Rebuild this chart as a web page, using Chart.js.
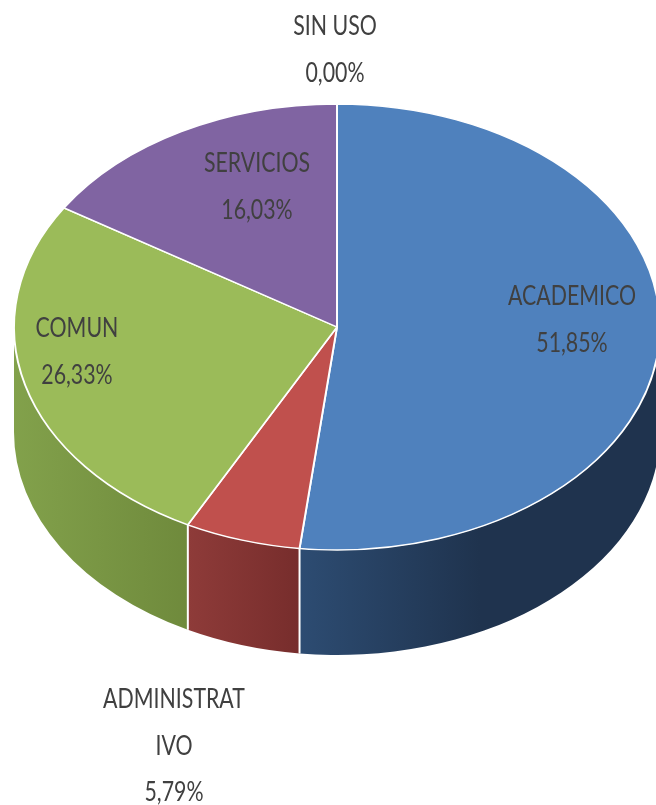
<!DOCTYPE html>
<html>
<head>
<meta charset="utf-8">
<script src="https://cdn.jsdelivr.net/npm/chart.js@4.4.0/dist/chart.umd.min.js"></script>
<style>
  html, body { margin: 0; padding: 0; background: #fff; }
  #wrap { width: 656px; height: 805px; position: relative; }
</style>
</head>
<body>
<div id="wrap"><canvas id="myChart"></canvas></div>
<script>
const categories = ['ACADEMICO', 'ADMINISTRATIVO', 'COMUN', 'SERVICIOS', 'SIN USO'];
const shares = [51.85, 5.79, 26.33, 16.03, 0.00];
const topColors = ['#4F81BD', '#C0504D', '#9BBB59', '#8064A2', '#4BACC6'];
// light / dark end of each side wall
const sideColors = [
    ['#2D4C72', '#1F334E'],
    ['#8E3B39', '#772D2C'],
    ['#82A14B', '#6F8A3C'],
    ['#5E4A7A', '#4B3B62'],
    ['#2F8AA0', '#237083']
];

// ellipse the flat pie gets squashed onto, plus wall height
const pie3d = { cx: 337, cy: 327, rx: 323, ry: 223, depth: 105 };
// where each label block starts (centre x, first baseline)
const labelSpots = [[572, 305], [174, 708], [77, 337], [257, 172], [335, 35]];

function rim(t, dy) {
    return [pie3d.cx + pie3d.rx * Math.cos(t), pie3d.cy + pie3d.ry * Math.sin(t) + (dy || 0)];
}

const pie3dPlugin = {
    id: 'pie3d',
    beforeDatasetsDraw(chart) {
        const ctx = chart.ctx;
        const arcs = chart.getDatasetMeta(0).data;
        const D = pie3d.depth;

        // front walls
        arcs.forEach((arc, i) => {
            const a = Math.max(arc.startAngle, 0);
            const b = Math.min(arc.endAngle, Math.PI);
            if (b <= a) return;
            const pa = rim(a), pb = rim(b);
            let x0 = Math.min(pa[0], pb[0]), x1 = Math.max(pa[0], pb[0]);
            if (a < Math.PI / 2 && b > Math.PI / 2) x0 = Math.min(x0, pie3d.cx);
            const g = ctx.createLinearGradient(x0, 0, x1, 0);
            g.addColorStop(0, sideColors[i][0]);
            g.addColorStop(i === 0 ? 0.5 : 1, sideColors[i][1]);
            g.addColorStop(1, sideColors[i][1]);
            ctx.save();
            ctx.beginPath();
            ctx.ellipse(pie3d.cx, pie3d.cy, pie3d.rx, pie3d.ry, 0, a, b);
            ctx.lineTo(pb[0], pb[1] + D);
            ctx.ellipse(pie3d.cx, pie3d.cy + D, pie3d.rx, pie3d.ry, 0, b, a, true);
            ctx.closePath();
            ctx.fillStyle = g;
            ctx.fill();
            ctx.restore();
        });

        // white seams between walls
        ctx.save();
        ctx.strokeStyle = '#fff';
        ctx.lineWidth = 2;
        arcs.forEach(arc => {
            const t = arc.endAngle;
            if (t > 0.02 && t < Math.PI - 0.02) {
                const p = rim(t);
                ctx.beginPath();
                ctx.moveTo(p[0], p[1]);
                ctx.lineTo(p[0], p[1] + D);
                ctx.stroke();
            }
        });
        ctx.restore();

        // squash the library's round pie onto the top ellipse
        const c = arcs[0];
        ctx.save();
        ctx.translate(pie3d.cx, pie3d.cy);
        ctx.scale(pie3d.rx / c.outerRadius, pie3d.ry / c.outerRadius);
        ctx.translate(-c.x, -c.y);
    },
    afterDatasetsDraw(chart) {
        const ctx = chart.ctx;
        ctx.restore();

        const sx = 0.79, maxW = 146, lh = 46.5;
        ctx.save();
        ctx.font = '27px Lato';
        ctx.fillStyle = '#404040';
        ctx.textAlign = 'center';
        ctx.textBaseline = 'alphabetic';
        categories.forEach((name, i) => {
            const lines = [];
            let cur = '';
            for (const ch of name) {
                if (ctx.measureText(cur + ch).width * sx > maxW && cur) {
                    lines.push(cur);
                    cur = ch;
                } else {
                    cur += ch;
                }
            }
            lines.push(cur);
            lines.push(shares[i].toFixed(2).replace('.', ',') + '%');
            const [x, y] = labelSpots[i];
            lines.forEach((ln, k) => {
                ctx.save();
                ctx.translate(x, y + k * lh);
                ctx.scale(sx, 1);
                ctx.fillText(ln, 0, 0);
                ctx.restore();
            });
        });
        ctx.restore();
    }
};

const myChart = new Chart(document.getElementById('myChart'), {
    type: 'pie',
    data: {
        labels: categories,
        datasets: [{
            data: shares,
            backgroundColor: topColors,
            borderColor: '#ffffff',
            borderWidth: 2
        }]
    },
    options: {
        responsive: true,
        maintainAspectRatio: false,
        animation: false,
        events: [],
        plugins: {
            legend: { display: false },
            tooltip: { enabled: false }
        }
    },
    plugins: [pie3dPlugin]
});
</script>
</body>
</html>
